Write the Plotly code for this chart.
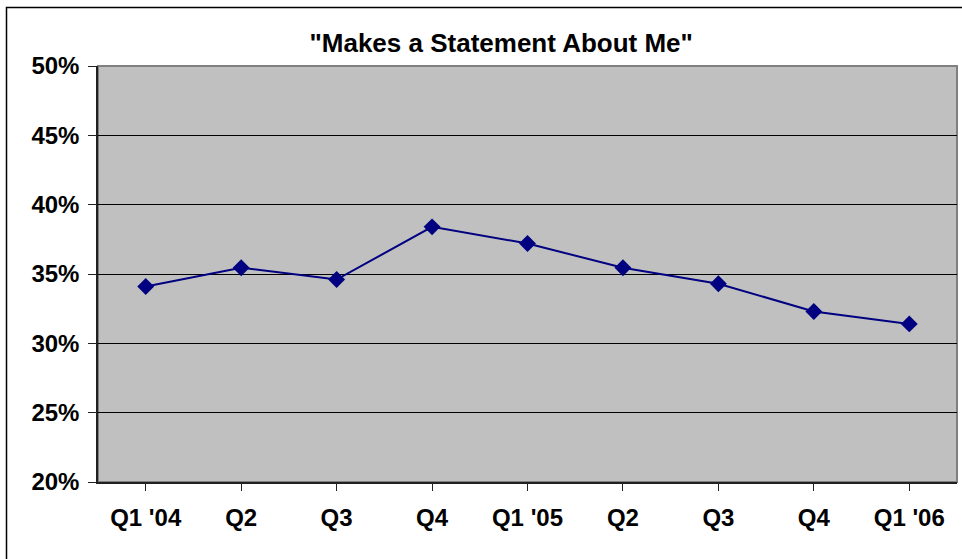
import plotly.graph_objects as go

categories = ["Q1 '04", "Q2", "Q3", "Q4", "Q1 '05", "Q2 ", "Q3 ", "Q4 ", "Q1 '06"]
tick_labels = ["Q1 '04", "Q2", "Q3", "Q4", "Q1 '05", "Q2", "Q3", "Q4", "Q1 '06"]
values = [0.341, 0.3545, 0.346, 0.384, 0.372, 0.3545, 0.343, 0.323, 0.314]
y_ticks = [0.20, 0.25, 0.30, 0.35, 0.40, 0.45, 0.50]
title_text = '"Makes a Statement About Me"'

FONT = "Liberation Sans, Arial, sans-serif"

fig = go.Figure()
fig.add_trace(go.Scatter(
    x=list(range(len(categories))),
    y=values,
    mode="lines+markers",
    line=dict(color="#000080", width=2),
    marker=dict(symbol="diamond", size=13, color="#000080"),
    showlegend=False,
    hoverinfo="skip",
))

fig.update_layout(
    width=962, height=559,
    margin=dict(l=98, r=5, t=66, b=77),
    paper_bgcolor="white",
    plot_bgcolor="#C0C0C0",
    title=dict(text="<b>" + title_text + "</b>", x=0.521, xref="container", xanchor="center",
               y=1 - 43 / 559, yref="container", yanchor="middle",
               font=dict(family=FONT, size=26, color="black")),
    xaxis=dict(
        range=[-0.5, len(categories) - 0.5],
        tickmode="array",
        tickvals=list(range(len(categories))),
        ticktext=["<b>" + t + "</b>" for t in tick_labels],
        showgrid=False, zeroline=False,
        showline=True, linecolor="#202020", linewidth=1.5,
        ticks="outside", ticklen=7, tickcolor="#202020", tickwidth=1,
        tickson="boundaries",
        ticklabelstandoff=6,
        tickfont=dict(family=FONT, size=24, color="black"),
    ),
    yaxis=dict(
        range=[0.2, 0.5],
        tickmode="array",
        tickvals=y_ticks,
        ticktext=["<b>%d%%</b>" % round(v * 100) for v in y_ticks],
        showgrid=True, gridcolor="#000000", gridwidth=1,
        zeroline=False,
        showline=True, linecolor="#202020", linewidth=1.5,
        ticks="outside", ticklen=8, tickcolor="#202020", tickwidth=1,
        ticklabelstandoff=4,
        tickfont=dict(family=FONT, size=24, color="black"),
    ),
    shapes=[
        dict(type="rect", xref="paper", yref="paper", x0=0, x1=1, y0=0, y1=1,
             line=dict(color="#808080", width=2), layer="below"),
        dict(type="rect", xref="paper", yref="paper",
             x0=(6.5 - 98) / 859, x1=1.05, y0=-0.3, y1=1 + (66 - 7.5) / 416,
             line=dict(color="#000000", width=1.5), fillcolor="rgba(0,0,0,0)", layer="above"),
    ],
)

fig.write_html("out.html", config={"displayModeBar": False},
               post_script="document.body.style.margin='0';document.body.style.overflow='hidden';")
